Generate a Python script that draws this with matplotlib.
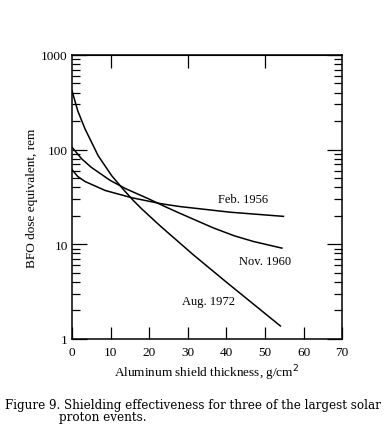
import numpy as np
import matplotlib
matplotlib.use('Agg')
import matplotlib.pyplot as plt
from matplotlib.ticker import LogLocator, NullFormatter, FixedLocator

# values (thickness g/cm^2, dose rem)
aug_x = [0, 1.5, 3.4, 6.8, 10.3, 13.3, 15.9, 18.1, 22.8, 31.5, 40.1, 46, 54]
aug_y = [420, 257, 165, 86, 53, 38, 29, 23.6, 15.7, 7.7, 3.95, 2.52, 1.37]

nov_x = [0, 2.5, 5, 10, 14, 20, 24, 28, 36.6, 42, 47, 51, 54.4]
nov_y = [106, 80, 65, 47, 38.5, 30, 25.1, 21.2, 14.9, 12.3, 10.7, 9.8, 9.1]

feb_x = [0, 1.5, 3.4, 8.6, 15.5, 23.3, 28, 41, 54.8]
feb_y = [61.5, 52, 46, 37, 31, 26.7, 25.0, 21.8, 19.7]

labels = ['Feb. 1956', 'Nov. 1960', 'Aug. 1972']
label_pos = [(44.3, 30.1), (50.0, 6.67), (35.3, 2.52)]

serif = 'Liberation Serif'

fig = plt.figure(figsize=(3.91, 4.27), dpi=100)
ax = fig.add_axes([0.184, 0.204, 0.691, 0.665])

for x, y in [(aug_x, aug_y), (nov_x, nov_y), (feb_x, feb_y)]:
    ax.plot(x, y, color='black', lw=1.1)

for txt, (tx, ty) in zip(labels, label_pos):
    ax.text(tx, ty, txt, fontsize=9, family=serif, ha='center', va='center')

ax.set_yscale('log')
ax.set_xlim(0, 70)
ax.set_ylim(1, 1000)
ax.set_xticks(range(0, 71, 10))
ax.set_yticks([1, 10, 100, 1000])
ax.set_yticklabels(['1', '10', '100', '1000'])
ax.yaxis.set_minor_locator(LogLocator(base=10, subs=np.arange(2, 10)))
ax.yaxis.set_minor_formatter(NullFormatter())

ax.tick_params(axis='x', which='major', direction='in', length=9, width=0.9,
               top=False, labelsize=9.5, pad=5)
ax.tick_params(axis='y', which='major', direction='in', length=11, width=0.9,
               right=True, labelsize=9.5, pad=3)
ax.tick_params(axis='y', which='minor', direction='in', length=6, width=0.9,
               right=True)
for lab in ax.get_xticklabels() + ax.get_yticklabels():
    lab.set_family(serif)

# top axis only has ticks at 10, 30, 50
top = ax.secondary_xaxis('top')
top.xaxis.set_major_locator(FixedLocator([10, 30, 50]))
top.tick_params(direction='in', length=9, width=0.9, labeltop=False)

for s in ax.spines.values():
    s.set_linewidth(1.1)

ax.set_xlabel('Aluminum shield thickness, g/cm$^2$', fontsize=9.5, family=serif,
              labelpad=3)
ax.set_ylabel('BFO dose equivalent, rem', fontsize=9.5, family=serif, labelpad=2)

fig.text(0.013, 0.051, 'Figure 9. Shielding effectiveness for three of the largest solar',
         fontsize=8.6, family='DejaVu Serif', ha='left', va='center')
fig.text(0.151, 0.023, 'proton events.',
         fontsize=8.6, family='DejaVu Serif', ha='left', va='center')

fig.savefig('out.png', dpi=100)
